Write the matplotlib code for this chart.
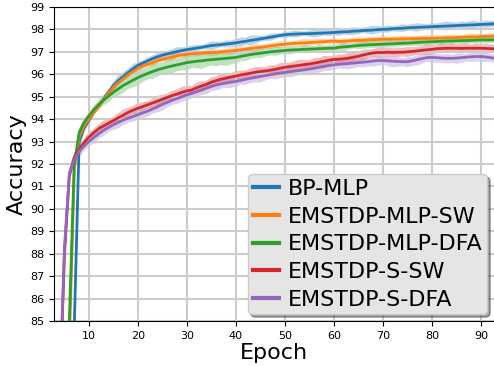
import matplotlib
matplotlib.use("Agg")
import matplotlib.pyplot as plt
import numpy as np

# epochs 4..93
epochs = list(range(4, 94))

labels = ["BP-MLP", "EMSTDP-MLP-SW", "EMSTDP-MLP-DFA", "EMSTDP-S-SW", "EMSTDP-S-DFA"]

bp_mlp = [72.0, 77.0, 81.0, 84.8, 93.0, 93.6, 93.95, 94.3, 94.6, 94.9,
          95.2, 95.5, 95.72, 95.9, 96.08, 96.25, 96.4, 96.5, 96.6, 96.7,
          96.78, 96.85, 96.91, 96.96, 97.01, 97.06, 97.1, 97.13, 97.17, 97.2,
          97.24, 97.28, 97.3, 97.32, 97.35, 97.37, 97.4, 97.44, 97.47, 97.51,
          97.54, 97.58, 97.61, 97.65, 97.69, 97.73, 97.76, 97.78, 97.79, 97.8,
          97.81, 97.81, 97.82, 97.83, 97.84, 97.85, 97.86, 97.88, 97.89, 97.9,
          97.92, 97.93, 97.95, 97.96, 97.97, 97.99, 98.0, 98.01, 98.03, 98.04,
          98.05, 98.07, 98.08, 98.09, 98.1, 98.11, 98.12, 98.13, 98.14, 98.15,
          98.16, 98.17, 98.18, 98.19, 98.2, 98.21, 98.22, 98.23, 98.24, 98.25]
bp_mlp_std = [1.0, 1.0, 1.0, 0.8, 0.3, 0.2, 0.15, 0.12, 0.1, 0.12,
              0.15, 0.18, 0.22, 0.2, 0.16, 0.2, 0.15, 0.12, 0.16, 0.14,
              0.18, 0.15, 0.12, 0.16, 0.2, 0.14, 0.12, 0.16, 0.13, 0.1,
              0.14, 0.18, 0.15, 0.12, 0.16, 0.14, 0.18, 0.2, 0.16, 0.22,
              0.18, 0.14, 0.12, 0.16, 0.13, 0.1, 0.14, 0.12, 0.16, 0.13,
              0.1, 0.14, 0.18, 0.15, 0.12, 0.16, 0.13, 0.17, 0.12, 0.15,
              0.18, 0.14, 0.12, 0.16, 0.2, 0.15, 0.13, 0.16, 0.12, 0.14,
              0.17, 0.13, 0.16, 0.19, 0.15, 0.12, 0.16, 0.13, 0.17, 0.2,
              0.16, 0.13, 0.17, 0.14, 0.18, 0.15, 0.12, 0.16, 0.14, 0.13]

mlp_sw = [70.0, 75.0, 84.0, 91.8, 93.2, 93.7, 94.0, 94.3, 94.55, 94.85,
          95.15, 95.42, 95.62, 95.8, 95.97, 96.12, 96.27, 96.36, 96.44, 96.52,
          96.6, 96.66, 96.72, 96.77, 96.82, 96.86, 96.89, 96.91, 96.93, 96.95,
          96.96, 96.97, 96.98, 97.0, 97.02, 97.04, 97.06, 97.09, 97.12, 97.15,
          97.18, 97.2, 97.23, 97.26, 97.29, 97.32, 97.34, 97.36, 97.38, 97.39,
          97.4, 97.41, 97.43, 97.44, 97.45, 97.47, 97.48, 97.46, 97.47, 97.49,
          97.5, 97.51, 97.52, 97.53, 97.54, 97.55, 97.56, 97.56, 97.57, 97.57,
          97.58, 97.58, 97.59, 97.59, 97.6, 97.6, 97.6, 97.61, 97.62, 97.63,
          97.63, 97.64, 97.65, 97.66, 97.67, 97.67, 97.68, 97.69, 97.7, 97.71]
mlp_sw_std = [1.0, 1.0, 0.8, 0.4, 0.2, 0.15, 0.12, 0.1, 0.13, 0.1,
              0.12, 0.15, 0.12, 0.1, 0.14, 0.11, 0.13, 0.1, 0.12, 0.15,
              0.12, 0.1, 0.13, 0.16, 0.12, 0.1, 0.14, 0.11, 0.13, 0.1,
              0.12, 0.15, 0.13, 0.1, 0.14, 0.17, 0.12, 0.15, 0.11, 0.14,
              0.16, 0.12, 0.1, 0.14, 0.12, 0.15, 0.13, 0.1, 0.12, 0.15,
              0.18, 0.14, 0.12, 0.16, 0.13, 0.11, 0.14, 0.12, 0.15, 0.1,
              0.13, 0.16, 0.12, 0.14, 0.11, 0.13, 0.15, 0.12, 0.1, 0.13,
              0.15, 0.12, 0.14, 0.11, 0.13, 0.16, 0.12, 0.14, 0.11, 0.13,
              0.15, 0.12, 0.1, 0.13, 0.16, 0.12, 0.14, 0.11, 0.13, 0.12]

mlp_dfa = [72.0, 78.0, 85.1, 92.0, 93.4, 93.85, 94.15, 94.42, 94.65, 94.85,
           95.02, 95.2, 95.35, 95.5, 95.62, 95.74, 95.85, 95.95, 96.04, 96.12,
           96.2, 96.26, 96.32, 96.37, 96.42, 96.47, 96.52, 96.55, 96.58, 96.6,
           96.63, 96.65, 96.67, 96.69, 96.71, 96.73, 96.75, 96.8, 96.84, 96.88,
           96.91, 96.94, 96.97, 97.0, 97.02, 97.04, 97.06, 97.08, 97.09, 97.1,
           97.11, 97.12, 97.13, 97.14, 97.15, 97.16, 97.16, 97.2, 97.22, 97.24,
           97.26, 97.28, 97.3, 97.31, 97.32, 97.33, 97.34, 97.35, 97.36, 97.37,
           97.38, 97.39, 97.4, 97.42, 97.43, 97.44, 97.45, 97.46, 97.47, 97.48,
           97.48, 97.49, 97.5, 97.5, 97.51, 97.52, 97.53, 97.53, 97.53, 97.53]
mlp_dfa_std = [1.0, 1.0, 0.8, 0.4, 0.2, 0.15, 0.15, 0.18, 0.2, 0.24,
               0.28, 0.25, 0.3, 0.34, 0.28, 0.32, 0.36, 0.3, 0.27, 0.33,
               0.3, 0.26, 0.32, 0.35, 0.28, 0.3, 0.34, 0.27, 0.31, 0.36,
               0.3, 0.26, 0.32, 0.28, 0.34, 0.3, 0.26, 0.22, 0.25, 0.2,
               0.18, 0.22, 0.19, 0.16, 0.2, 0.17, 0.15, 0.19, 0.16, 0.14,
               0.18, 0.15, 0.13, 0.17, 0.14, 0.16, 0.13, 0.15, 0.18, 0.14,
               0.12, 0.15, 0.17, 0.13, 0.16, 0.14, 0.12, 0.15, 0.17, 0.13,
               0.15, 0.12, 0.14, 0.17, 0.13, 0.15, 0.12, 0.14, 0.16, 0.13,
               0.15, 0.12, 0.14, 0.16, 0.13, 0.15, 0.12, 0.14, 0.13, 0.12]

s_sw = [81.5, 88.0, 91.5, 92.3, 92.65, 92.95, 93.2, 93.4, 93.58, 93.7,
        93.82, 93.94, 94.06, 94.18, 94.3, 94.4, 94.48, 94.56, 94.64, 94.72,
        94.8, 94.89, 94.97, 95.05, 95.12, 95.2, 95.26, 95.3, 95.4, 95.48,
        95.55, 95.65, 95.72, 95.78, 95.83, 95.88, 95.92, 95.97, 96.01, 96.05,
        96.09, 96.12, 96.15, 96.18, 96.22, 96.27, 96.31, 96.34, 96.37, 96.4,
        96.43, 96.46, 96.5, 96.54, 96.58, 96.63, 96.66, 96.67, 96.69, 96.72,
        96.76, 96.8, 96.86, 96.91, 96.95, 96.97, 96.97, 96.98, 96.97, 96.98,
        96.98, 97.0, 97.02, 97.04, 97.07, 97.09, 97.11, 97.14, 97.15, 97.16,
        97.16, 97.16, 97.15, 97.16, 97.16, 97.16, 97.16, 97.15, 97.14, 97.13]
s_sw_std = [0.8, 0.6, 0.3, 0.2, 0.18, 0.2, 0.22, 0.18, 0.2, 0.24,
            0.2, 0.17, 0.22, 0.25, 0.2, 0.18, 0.23, 0.19, 0.16, 0.21,
            0.24, 0.19, 0.17, 0.22, 0.2, 0.25, 0.21, 0.18, 0.23, 0.2,
            0.17, 0.22, 0.19, 0.24, 0.2, 0.18, 0.22, 0.19, 0.16, 0.21,
            0.24, 0.2, 0.17, 0.22, 0.19, 0.23, 0.2, 0.18, 0.22, 0.25,
            0.21, 0.18, 0.22, 0.2, 0.24, 0.19, 0.17, 0.22, 0.2, 0.25,
            0.22, 0.19, 0.23, 0.2, 0.17, 0.22, 0.24, 0.2, 0.18, 0.22,
            0.19, 0.23, 0.2, 0.17, 0.21, 0.24, 0.2, 0.18, 0.22, 0.19,
            0.21, 0.18, 0.22, 0.2, 0.17, 0.21, 0.19, 0.22, 0.2, 0.18]

s_dfa = [81.8, 88.3, 91.6, 92.2, 92.55, 92.8, 93.0, 93.18, 93.35, 93.5,
         93.63, 93.75, 93.86, 93.96, 94.04, 94.12, 94.2, 94.28, 94.36, 94.45,
         94.55, 94.66, 94.75, 94.84, 94.92, 95.0, 95.08, 95.15, 95.22, 95.3,
         95.38, 95.46, 95.52, 95.57, 95.61, 95.65, 95.68, 95.73, 95.78, 95.82,
         95.86, 95.9, 95.94, 95.98, 96.02, 96.05, 96.08, 96.11, 96.14, 96.17,
         96.2, 96.23, 96.27, 96.31, 96.35, 96.39, 96.42, 96.45, 96.46, 96.48,
         96.5, 96.52, 96.54, 96.56, 96.59, 96.61, 96.61, 96.6, 96.58, 96.57,
         96.56, 96.56, 96.6, 96.65, 96.7, 96.74, 96.75, 96.74, 96.72, 96.71,
         96.71, 96.72, 96.74, 96.76, 96.78, 96.79, 96.79, 96.77, 96.74, 96.71]
s_dfa_std = [0.8, 0.6, 0.3, 0.2, 0.2, 0.18, 0.2, 0.23, 0.19, 0.22,
             0.18, 0.21, 0.24, 0.2, 0.17, 0.22, 0.19, 0.23, 0.2, 0.18,
             0.22, 0.25, 0.2, 0.18, 0.22, 0.19, 0.24, 0.2, 0.17, 0.21,
             0.23, 0.19, 0.22, 0.18, 0.2, 0.24, 0.2, 0.17, 0.22, 0.19,
             0.21, 0.24, 0.19, 0.17, 0.22, 0.2, 0.18, 0.23, 0.2, 0.17,
             0.22, 0.19, 0.24, 0.2, 0.18, 0.22, 0.19, 0.16, 0.21, 0.24,
             0.2, 0.18, 0.22, 0.19, 0.23, 0.2, 0.17, 0.22, 0.25, 0.21,
             0.18, 0.22, 0.2, 0.24, 0.19, 0.17, 0.22, 0.2, 0.18, 0.21,
             0.19, 0.23, 0.2, 0.17, 0.21, 0.19, 0.22, 0.2, 0.18, 0.2]

means = [bp_mlp, mlp_sw, mlp_dfa, s_sw, s_dfa]
stds = [bp_mlp_std, mlp_sw_std, mlp_dfa_std, s_sw_std, s_dfa_std]
colors = ["tab:blue", "tab:orange", "tab:green", "tab:red", "tab:purple"]


def main():
    fig = plt.figure(figsize=(4.94, 3.66), dpi=100)
    ax = fig.add_axes([0.1093, 0.123, 0.8907, 0.858])

    x = np.array(epochs)
    for m, s, c, lab in zip(means, stds, colors, labels):
        m = np.array(m)
        s = np.array(s)
        ax.fill_between(x, m - s, m + s, color=c, alpha=0.3, linewidth=0)
        ax.plot(x, m, color=c, linewidth=2, label=lab)

    ax.set_xlim(2.86, 92.65)
    ax.set_ylim(85, 99)
    ax.set_xticks(range(10, 100, 10))
    ax.set_yticks(range(85, 100))
    ax.tick_params(labelsize=8)
    ax.grid(True, color="#cccccc", linewidth=1.5)
    ax.spines["right"].set_visible(False)

    ax.set_xlabel("Epoch", fontsize=16, labelpad=2)
    ax.set_ylabel("Accuracy", fontsize=16, labelpad=2)

    # 凡例はグレー背景+影
    leg = ax.legend(loc="lower right", fontsize=16, shadow=True, framealpha=1,
                    facecolor="#e5e5e5", edgecolor="#cccccc",
                    handlelength=1.2, handletextpad=0.4, borderpad=0.2,
                    labelspacing=0.35, borderaxespad=0.3)
    for line in leg.get_lines():
        line.set_linewidth(3)

    fig.savefig("out.png", dpi=100)
    plt.close(fig)


if __name__ == "__main__":
    main()
